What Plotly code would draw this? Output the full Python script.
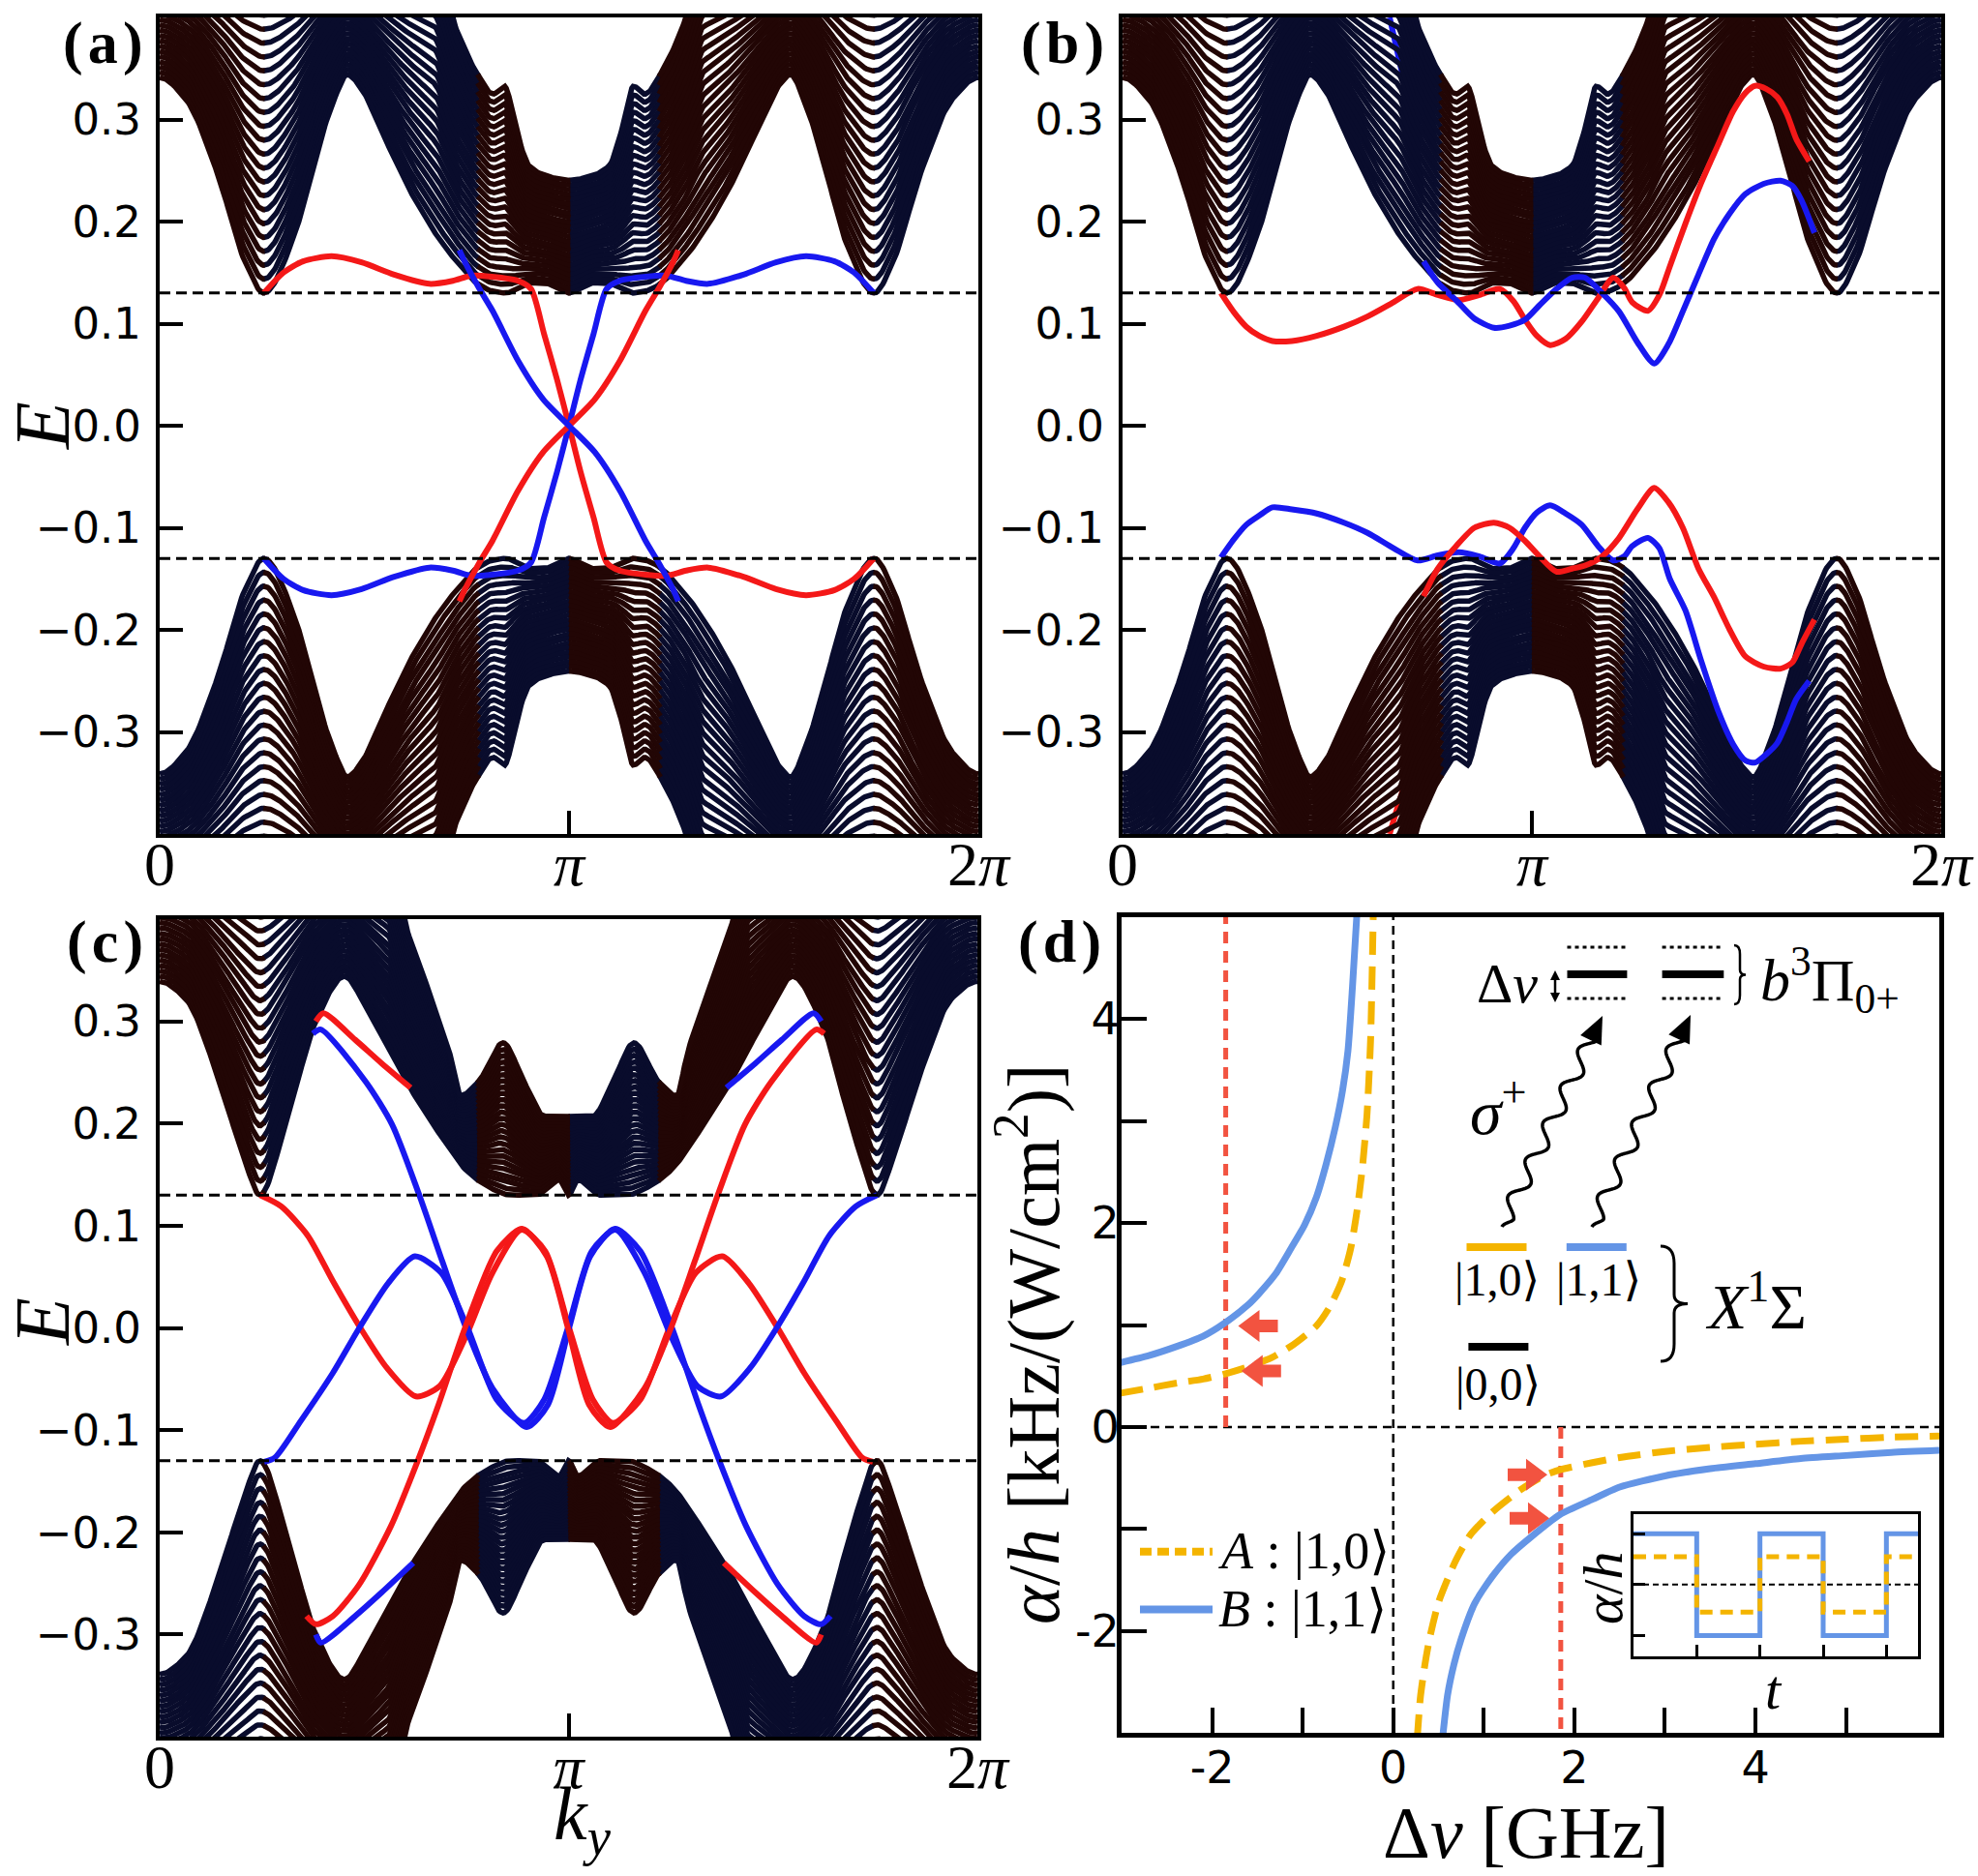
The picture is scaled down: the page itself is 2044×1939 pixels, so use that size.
import numpy as np
import plotly.graph_objects as go

W, H = 2044, 1939
PI = np.pi
TWO_PI = 2 * np.pi


def PX(x):
    return x / W


def PY(y):
    return 1 - y / H


NAVY = '#090c2c'
BROWN = '#220605'
RED = '#f41818'
BLUE = '#1818f0'
ORANGE = '#f4b400'
CBLUE = '#6495e6'
TOMATO = '#f25340'
SERIF = 'Liberation Serif, DejaVu Serif, serif'
SANS = 'DejaVu Sans, sans-serif'

# ------------------------------------------------------------------ data
GAP = 0.13  # dashed gap edges in (a)-(c)

# bulk envelopes, read on 0..pi (bands are symmetric about pi)
ab_k_low = [0, 0.2, 0.45, 0.65, 0.80, 1.02, 1.19, 1.34, 1.44, 1.55, 1.69, 1.94, 2.19, 2.30, 2.43, 2.55, 2.66, 2.75, 2.85, 2.95, 3.05, PI]
ab_e_low = [0.341, 0.32, 0.245, 0.162, 0.130, 0.181, 0.26, 0.32, 0.344, 0.33, 0.292, 0.226, 0.175, 0.158, 0.14, 0.132, 0.13, 0.135, 0.14, 0.14, 0.135, 0.13]
ab_k_top = [0, 2.10, 2.27, 2.43, 2.56, 2.645, 2.75, 2.83, 2.95, PI]
ab_e_top = [0.47, 0.47, 0.40, 0.355, 0.333, 0.341, 0.29, 0.26, 0.25, 0.245]

c_k_low = [0, 0.2, 0.45, 0.65, 0.771, 0.95, 1.2, 1.42, 1.6, 1.9, 2.15, 2.35, 2.5, 2.7, 2.9, 3.0, 3.07, PI]
c_e_low = [0.339, 0.322, 0.245, 0.165, 0.130, 0.19, 0.30, 0.344, 0.31, 0.24, 0.19, 0.155, 0.14, 0.13, 0.13, 0.14, 0.145, 0.13]
c_k_top = [0, 1.75, 1.89, 2.07, 2.23, 2.31, 2.45, 2.64, 2.80, 2.96, PI]
c_e_top = [0.47, 0.47, 0.40, 0.334, 0.272, 0.23, 0.245, 0.285, 0.245, 0.21, 0.21]

# (a) edge states
a_redA_k = [0.80, 0.95, 1.10, 1.32, 1.55, 1.80, 2.07, 2.25, 2.39, 2.55, 2.75, 2.85, 2.95, 3.05, PI, 3.23, 3.33, 3.43, 3.53, 3.73, 3.89, 4.04, 4.21, 4.48, 4.73, 4.96, 5.18, 5.33, 5.48]
a_redA_e = [0.130, 0.150, 0.161, 0.166, 0.160, 0.148, 0.139, 0.142, 0.147, 0.146, 0.142, 0.134, 0.09, 0.045, 0.0, -0.045, -0.09, -0.134, -0.142, -0.146, -0.147, -0.142, -0.139, -0.148, -0.160, -0.166, -0.161, -0.150, -0.130]
a_blueA_k = a_redA_k
a_blueA_e = [-0.130, -0.150, -0.161, -0.166, -0.160, -0.148, -0.139, -0.142, -0.147, -0.146, -0.142, -0.134, -0.09, -0.045, 0.0, 0.045, 0.09, 0.134, 0.142, 0.146, 0.147, 0.142, 0.139, 0.148, 0.160, 0.166, 0.161, 0.150, 0.130]
a_blueB_k = [2.30, 2.34, 2.45, 2.555, 2.749, 2.943, PI, 3.340, 3.534, 3.728, 3.833, 3.943, 3.98]
a_blueB_e = [0.172, 0.161, 0.135, 0.1125, 0.064, 0.026, 0.0, -0.026, -0.064, -0.1125, -0.135, -0.161, -0.172]
a_redB_k = a_blueB_k
a_redB_e = [-0.172, -0.161, -0.135, -0.1125, -0.064, -0.026, 0.0, 0.026, 0.064, 0.1125, 0.135, 0.161, 0.172]

# (b) edge states
b_redU_k = [0.755, 0.85, 0.95, 1.05, 1.15, 1.30, 1.49, 1.70, 1.88, 2.08, 2.265, 2.42, 2.58, 2.74, 2.895, 3.00, 3.088, 3.18, 3.282, 3.40, 3.524, 3.65, 3.766, 3.85, 3.911, 4.032, 4.12, 4.20, 4.32, 4.44, 4.57, 4.686, 4.78, 4.855, 4.94, 5.024, 5.10, 5.17, 5.27]
b_redU_e = [0.130, 0.112, 0.097, 0.088, 0.083, 0.083, 0.088, 0.097, 0.107, 0.121, 0.134, 0.128, 0.123, 0.128, 0.134, 0.122, 0.104, 0.088, 0.079, 0.085, 0.102, 0.125, 0.145, 0.135, 0.121, 0.1125, 0.128, 0.156, 0.198, 0.2375, 0.275, 0.308, 0.326, 0.333, 0.330, 0.322, 0.305, 0.281, 0.259]
b_blueL_k = b_redU_k
b_blueL_e = [-0.129, -0.112, -0.097, -0.088, -0.080, -0.082, -0.086, -0.095, -0.105, -0.120, -0.132, -0.127, -0.124, -0.128, -0.135, -0.120, -0.100, -0.085, -0.078, -0.086, -0.097, -0.118, -0.132, -0.128, -0.118, -0.110, -0.120, -0.150, -0.181, -0.230, -0.279, -0.312, -0.328, -0.330, -0.322, -0.311, -0.290, -0.268, -0.250]
b_blueU_k = [2.31, 2.42, 2.56, 2.70, 2.85, 2.97, 3.09, 3.20, 3.33, 3.45, 3.55, 3.68, 3.81, 3.95, 4.08, 4.19, 4.30, 4.42, 4.54, 4.66, 4.78, 4.92, 5.05, 5.14, 5.21, 5.31]
b_blueU_e = [0.161, 0.140, 0.123, 0.105, 0.096, 0.098, 0.104, 0.118, 0.134, 0.145, 0.145, 0.130, 0.112, 0.082, 0.061, 0.080, 0.112, 0.148, 0.183, 0.208, 0.227, 0.237, 0.240, 0.235, 0.221, 0.189]
b_redL_k = b_blueU_k
b_redL_e = [-0.167, -0.140, -0.118, -0.100, -0.095, -0.100, -0.113, -0.128, -0.143, -0.140, -0.137, -0.128, -0.110, -0.082, -0.061, -0.075, -0.100, -0.140, -0.168, -0.200, -0.226, -0.236, -0.238, -0.232, -0.214, -0.190]
b_blueTop_k = [2.05, 2.12, 2.19]
b_blueTop_e = [0.40, 0.36, 0.32]
b_redBot_k = [2.05, 2.12, 2.19, 2.36]
b_redBot_e = [-0.40, -0.37, -0.345, -0.33]

# (c) edge states
c_red1_k = [0.771, 0.934, 1.137, 1.339, 1.542, 1.745, 1.969, 2.151, 2.354, 2.557, 2.780, 2.963, 3.146, 3.328, 3.483, 3.694, 3.917, 4.120, 4.323, 4.526, 4.749, 4.952, 5.196, 5.398, 5.48]
c_red1_e = [0.130, 0.119, 0.0905, 0.044, 0.0, -0.039, -0.067, -0.057, -0.008, 0.054, 0.096, 0.075, 0.0, -0.070, -0.093, -0.070, 0.0, 0.054, 0.070, 0.044, 0.0, -0.044, -0.0905, -0.127, -0.131]
c_blue1_k = [0.803, 0.885, 1.087, 1.331, 1.534, 1.757, 1.960, 2.163, 2.366, 2.589, 2.800, 2.955, 3.137, 3.320, 3.503, 3.726, 3.929, 4.132, 4.314, 4.538, 4.741, 4.944, 5.146, 5.349, 5.512]
c_blue1_e = [-0.131, -0.127, -0.0905, -0.044, 0.0, 0.044, 0.070, 0.054, 0.0, -0.070, -0.093, -0.070, 0.0, 0.075, 0.096, 0.054, -0.008, -0.057, -0.067, -0.039, 0.0, 0.044, 0.0905, 0.119, 0.130]
c_blue2_k = [1.177, 1.238, 1.583, 1.786, 1.989, 2.172, 2.354, 2.557, 2.821, 2.984, 3.146, 3.308, 3.499, 3.694, 3.937, 4.14, 4.303, 4.506, 4.749, 4.952, 5.082, 5.155]
c_blue2_e = [0.288, 0.292, 0.241, 0.199, 0.132, 0.065, 0.0, -0.059, -0.097, -0.075, 0.0, 0.070, 0.097, 0.075, 0.0, -0.075, -0.131, -0.194, -0.251, -0.282, -0.290, -0.282]
c_red2_k = [1.128, 1.201, 1.331, 1.534, 1.777, 1.980, 2.143, 2.346, 2.589, 2.784, 2.975, 3.137, 3.299, 3.462, 3.726, 3.929, 4.111, 4.294, 4.497, 4.700, 5.045, 5.106]
c_red2_e = [-0.282, -0.290, -0.282, -0.251, -0.194, -0.131, -0.075, 0.0, 0.075, 0.097, 0.070, 0.0, -0.075, -0.097, -0.059, 0.0, 0.065, 0.132, 0.199, 0.241, 0.292, 0.288]
c_red3_k = [1.20, 1.258, 1.502, 1.705, 1.928]
c_red3_e = [0.300, 0.308, 0.282, 0.259, 0.235]
c_blue3_k = [4.355, 4.578, 4.781, 5.025, 5.083]
c_blue3_e = [0.235, 0.259, 0.282, 0.308, 0.300]
c_blue4_k = [1.20, 1.238, 1.502, 1.705, 1.948]
c_blue4_e = [-0.300, -0.308, -0.282, -0.259, -0.230]
c_red4_k = [4.335, 4.578, 4.781, 5.045, 5.083]
c_red4_e = [-0.230, -0.259, -0.282, -0.308, -0.300]

# (d) polarisability curves
dB_left_x = [-3.02, -2.7, -2.39, -2.1, -1.86, -1.6, -1.48, -1.3, -1.13, -0.98, -0.85, -0.74, -0.64, -0.56, -0.50, -0.45, -0.40]
dB_left_y = [0.63, 0.70, 0.79, 0.89, 1.02, 1.20, 1.31, 1.50, 1.75, 1.98, 2.25, 2.58, 2.94, 3.30, 3.69, 4.32, 5.05]
dA_left_x = [-3.02, -2.7, -2.39, -2.1, -1.86, -1.6, -1.34, -1.1, -0.85, -0.70, -0.57, -0.47, -0.40, -0.34, -0.29, -0.25, -0.22]
dA_left_y = [0.33, 0.38, 0.43, 0.47, 0.52, 0.59, 0.68, 0.81, 0.99, 1.18, 1.43, 1.75, 2.12, 2.55, 3.06, 3.8, 5.05]
dB_right_x = [0.545, 0.60, 0.67, 0.75, 0.90, 1.10, 1.30, 1.52, 1.84, 2.2, 2.5, 3.0, 3.5, 4.0, 4.5, 5.0, 5.5, 6.03]
dB_right_y = [-3.05, -2.63, -2.33, -2.08, -1.73, -1.46, -1.25, -1.08, -0.86, -0.71, -0.59, -0.48, -0.41, -0.36, -0.31, -0.28, -0.25, -0.23]
dA_right_x = [0.265, 0.30, 0.35, 0.40, 0.50, 0.68, 0.85, 1.10, 1.40, 1.66, 1.84, 2.2, 2.5, 3.0, 3.5, 4.0, 4.5, 5.0, 5.5, 6.03]
dA_right_y = [-3.05, -2.65, -2.33, -2.08, -1.72, -1.33, -1.06, -0.83, -0.62, -0.48, -0.42, -0.35, -0.30, -0.24, -0.20, -0.17, -0.14, -0.12, -0.10, -0.09]
d_red_lines_x = [-1.85, 1.85]
d_red_lines_y = [[0.0, 5.0], [0.0, -3.0]]
d_xticks = [-2, 0, 2, 4]
d_xtick_text = ['-2', '0', '2', '4']
d_xminor = [-1, 1, 3, 5]
d_yticks = [-2, 0, 2, 4]
d_ytick_text = ['-2', '0', '2', '4']
d_yminor = [-1, 1, 3]

# inset square waves
inset_t = [0, 1, 1, 2, 2, 3, 3, 4, 4, 4.5]
inset_B = [1, 1, -1, -1, 1, 1, -1, -1, 1, 1]
inset_A = [0.55, 0.55, -0.54, -0.54, 0.55, 0.55, -0.54, -0.54, 0.55, 0.55]


# ------------------------------------------------------------------ helpers
def pchip(xp, yp, xn):
    xp = np.asarray(xp, float)
    yp = np.asarray(yp, float)
    h = np.diff(xp)
    d = np.diff(yp) / h
    m = np.zeros_like(yp)
    for i in range(1, len(xp) - 1):
        if d[i - 1] * d[i] > 0:
            w1 = 2 * h[i] + h[i - 1]
            w2 = h[i] + 2 * h[i - 1]
            m[i] = (w1 + w2) / (w1 / d[i - 1] + w2 / d[i])
    idx = np.clip(np.searchsorted(xp, xn, side='right') - 1, 0, len(xp) - 2)
    t = (xn - xp[idx]) / h[idx]
    h00 = 2 * t ** 3 - 3 * t ** 2 + 1
    h10 = t ** 3 - 2 * t ** 2 + t
    h01 = -2 * t ** 3 + 3 * t ** 2
    h11 = t ** 3 - t ** 2
    return h00 * yp[idx] + h10 * h[idx] * m[idx] + h01 * yp[idx + 1] + h11 * h[idx] * m[idx + 1]


KG = np.linspace(0, TWO_PI, 601)
KK = np.where(KG <= PI, KG, TWO_PI - KG)
UPPER_BROWN = ((KG < 0.80) | ((KG > 2.45) & (KG < PI)) |
               ((KG > TWO_PI - 2.45) & (KG < TWO_PI - 0.80)))


def runs(mask):
    d = np.diff(np.concatenate([[0], mask.astype(int), [0]]))
    return list(zip(np.flatnonzero(d == 1), np.flatnonzero(d == -1)))


def bulk_traces(k1, e1, kt, et, xa, ya, n=25):
    E1 = pchip(k1, e1, KK)
    ET = pchip(kt, et, KK)
    out = []
    for sign in (1, -1):
        bmask = UPPER_BROWN if sign == 1 else ~UPPER_BROWN
        for color, mask in ((NAVY, ~bmask), (BROWN, bmask)):
            xs, ys = [], []
            for i in range(n):
                s = 1 - i / n
                Ei = sign * (ET - (ET - E1) * s)
                for a, b in runs(mask):
                    a0 = max(a - 1, 0)
                    b0 = min(b + 1, len(KG))
                    xs += [KG[a0:b0], [np.nan]]
                    ys += [Ei[a0:b0], [np.nan]]
            out.append(go.Scatter(x=np.round(np.concatenate(xs), 4), y=np.round(np.concatenate(ys), 4),
                                  mode='lines', line=dict(color=color, width=5.5),
                                  xaxis=xa, yaxis=ya, hoverinfo='skip', showlegend=False))
    return out


def edge(k, e, color, xa, ya):
    return go.Scatter(x=k, y=e, mode='lines', line=dict(color=color, width=6, shape='spline', smoothing=0.7),
                      xaxis=xa, yaxis=ya, hoverinfo='skip', showlegend=False)


def gap_lines(xa, ya):
    return [go.Scatter(x=[0, TWO_PI], y=[s * GAP, s * GAP], mode='lines',
                       line=dict(color='black', width=3, dash='11px,6px'),
                       xaxis=xa, yaxis=ya, hoverinfo='skip', showlegend=False) for s in (1, -1)]


traces = []
# (a)
traces += bulk_traces(ab_k_low, ab_e_low, ab_k_top, ab_e_top, 'x', 'y')
traces += [edge(a_redA_k, a_redA_e, RED, 'x', 'y'), edge(a_blueA_k, a_blueA_e, BLUE, 'x', 'y'),
           edge(a_redB_k, a_redB_e, RED, 'x', 'y'), edge(a_blueB_k, a_blueB_e, BLUE, 'x', 'y')]
traces += gap_lines('x', 'y')
# (b)
traces += [edge(b_blueTop_k, b_blueTop_e, BLUE, 'x2', 'y2'), edge(b_redBot_k, b_redBot_e, RED, 'x2', 'y2')]
traces += bulk_traces(ab_k_low, ab_e_low, ab_k_top, ab_e_top, 'x2', 'y2')
traces += [edge(b_redU_k, b_redU_e, RED, 'x2', 'y2'), edge(b_blueL_k, b_blueL_e, BLUE, 'x2', 'y2'),
           edge(b_blueU_k, b_blueU_e, BLUE, 'x2', 'y2'), edge(b_redL_k, b_redL_e, RED, 'x2', 'y2')]
traces += gap_lines('x2', 'y2')
# (c)
traces += bulk_traces(c_k_low, c_e_low, c_k_top, c_e_top, 'x3', 'y3')
for kk_, ee_, col in [(c_red1_k, c_red1_e, RED), (c_blue1_k, c_blue1_e, BLUE), (c_blue2_k, c_blue2_e, BLUE),
                      (c_red2_k, c_red2_e, RED), (c_red3_k, c_red3_e, RED), (c_blue3_k, c_blue3_e, BLUE),
                      (c_blue4_k, c_blue4_e, BLUE), (c_red4_k, c_red4_e, RED)]:
    traces.append(edge(kk_, ee_, col, 'x3', 'y3'))
traces += gap_lines('x3', 'y3')

# (d)
traces.append(go.Scatter(x=[-3, 6.03], y=[0, 0], mode='lines', line=dict(color='black', width=2.5, dash='9px,6px'),
                         xaxis='x4', yaxis='y4', hoverinfo='skip', showlegend=False))
traces.append(go.Scatter(x=[0, 0], y=[-3, 5], mode='lines', line=dict(color='black', width=2.5, dash='9px,6px'),
                         xaxis='x4', yaxis='y4', hoverinfo='skip', showlegend=False))
for xv, yv in zip(d_red_lines_x, d_red_lines_y):
    traces.append(go.Scatter(x=[xv, xv], y=yv, mode='lines', line=dict(color=TOMATO, width=5, dash='12px,8px'),
                             xaxis='x4', yaxis='y4', hoverinfo='skip', showlegend=False))
for xs_, ys_ in [(dB_left_x, dB_left_y), (dB_right_x, dB_right_y)]:
    traces.append(go.Scatter(x=xs_, y=ys_, mode='lines', line=dict(color=CBLUE, width=7, shape='spline', smoothing=0.6),
                             xaxis='x4', yaxis='y4', hoverinfo='skip', showlegend=False))
for xs_, ys_ in [(dA_left_x, dA_left_y), (dA_right_x, dA_right_y)]:
    traces.append(go.Scatter(x=xs_, y=ys_, mode='lines',
                             line=dict(color=ORANGE, width=7, dash='24px,12px', shape='spline', smoothing=0.6),
                             xaxis='x4', yaxis='y4', hoverinfo='skip', showlegend=False))
# inset
traces.append(go.Scatter(x=[0, 4.5], y=[0, 0], mode='lines', line=dict(color='black', width=2, dash='6px,4px'),
                         xaxis='x5', yaxis='y5', hoverinfo='skip', showlegend=False))
traces.append(go.Scatter(x=inset_t, y=inset_B, mode='lines', line=dict(color=CBLUE, width=5),
                         xaxis='x5', yaxis='y5', hoverinfo='skip', showlegend=False))
traces.append(go.Scatter(x=inset_t, y=inset_A, mode='lines', line=dict(color=ORANGE, width=5, dash='13px,8px'),
                         xaxis='x5', yaxis='y5', hoverinfo='skip', showlegend=False))

fig = go.Figure(traces)

# ------------------------------------------------------------------ axes
def band_x(dom, anchor):
    return dict(domain=dom, anchor=anchor, range=[0, TWO_PI], tickvals=[0, PI, TWO_PI],
                ticktext=['0', '<i>π</i>', '2<i>π</i>'], automargin=False,
                ticks='inside', ticklen=24, tickwidth=4, tickcolor='black', showline=True, mirror=True,
                linecolor='black', linewidth=4, showgrid=False, zeroline=False, ticklabelstandoff=-28,
                tickfont=dict(family=SERIF, size=64, color='black'))


def band_y(dom, anchor):
    return dict(domain=dom, anchor=anchor, range=[-0.4, 0.4], tickvals=[-0.3, -0.2, -0.1, 0, 0.1, 0.2, 0.3],
                tickformat='.1f', ticks='inside', ticklen=24, tickwidth=4, tickcolor='black', showline=True,
                mirror=True, linecolor='black', linewidth=4, showgrid=False, zeroline=False, ticklabelstandoff=6,
                automargin=False, tickfont=dict(family=SANS, size=45, color='black'))


A_X = [PX(165), PX(1011)]
B_X = [PX(1160), PX(2006)]
TOP_Y = [PY(862), PY(18)]
C_X = [PX(165), PX(1010)]
C_Y = [PY(1795), PY(950)]
D_X = [PX(1159), PX(2004)]
D_Y = [PY(1791), PY(948)]
IN_X = [PX(1688), PX(1982)]
IN_Y = [PY(1712), PY(1565)]

MINOR = dict(ticks='inside', ticklen=26, tickwidth=4, tickcolor='black', showgrid=False)

layout = dict(
    width=W, height=H, autosize=False,
    margin=dict(l=0, r=0, t=0, b=0, pad=0, autoexpand=False), paper_bgcolor='white', plot_bgcolor='white',
    showlegend=False, font=dict(family=SANS, color='black'),
    xaxis=band_x(A_X, 'y'), yaxis=band_y(TOP_Y, 'x'),
    xaxis2=band_x(B_X, 'y2'), yaxis2=band_y(TOP_Y, 'x2'),
    xaxis3=band_x(C_X, 'y3'), yaxis3=band_y(C_Y, 'x3'),
    xaxis4=dict(domain=D_X, anchor='y4', range=[-3, 6.03], tickvals=d_xticks, ticktext=d_xtick_text,
                minor=dict(tickvals=d_xminor, **MINOR), automargin=False,
                ticks='inside', ticklen=26, tickwidth=4, tickcolor='black', showline=True, mirror=True,
                linecolor='black', linewidth=5, showgrid=False, zeroline=False, ticklabelstandoff=-8,
                tickfont=dict(family=SANS, size=46, color='black')),
    yaxis4=dict(domain=D_Y, anchor='x4', range=[-3, 5], tickvals=d_yticks, ticktext=d_ytick_text,
                minor=dict(tickvals=d_yminor, **MINOR), automargin=False,
                ticks='inside', ticklen=26, tickwidth=4, tickcolor='black', showline=True, mirror=True,
                linecolor='black', linewidth=5, showgrid=False, zeroline=False, ticklabelstandoff=-12,
                tickfont=dict(family=SANS, size=46, color='black')),
    xaxis5=dict(domain=IN_X, anchor='y5', range=[0, 4.5], tickvals=[1, 2, 3, 4], showticklabels=False,
                ticks='inside', ticklen=12, tickwidth=3, tickcolor='black', showline=True, mirror=True,
                linecolor='black', linewidth=3, showgrid=False, zeroline=False, automargin=False),
    yaxis5=dict(domain=IN_Y, anchor='x5', range=[-1.41, 1.385], tickvals=[-1, 0, 1], showticklabels=False,
                ticks='inside', ticklen=12, tickwidth=3, tickcolor='black', showline=True, mirror=True,
                linecolor='black', linewidth=3, showgrid=False, zeroline=False, automargin=False),
)
fig.update_layout(**layout)


# ------------------------------------------------------------------ annotations
def ann(x, y, text, size, family=SERIF, angle=0, xanchor='center', yanchor='middle'):
    return dict(x=PX(x), y=PY(y), xref='paper', yref='paper', text=text, showarrow=False, textangle=angle,
                xanchor=xanchor, yanchor=yanchor, font=dict(family=family, size=size, color='black'))


HAIR = '\u200a'
anns = [
    ann(106, 44, f'<b>({HAIR}a{HAIR})</b>', 62), ann(1098, 44, f'<b>({HAIR}b{HAIR})</b>', 62),
    ann(108, 974, f'<b>({HAIR}c{HAIR})</b>', 62), ann(1095, 974, f'<b>({HAIR}d{HAIR})</b>', 62),
    ann(44, 440, '<i>E</i>', 80, angle=-90), ann(44, 1366, '<i>E</i>', 80, angle=-90),
    ann(602, 1880, '<i>k</i><sub><i>y</i></sub>', 78),
    ann(1577, 1894, 'Δ<i>ν</i> [GHz]', 76),
    ann(1063, 1390, '<i>α</i>/<i>h</i> [kHz/(W/cm<sup>2</sup>)]', 76, angle=-90),
    ann(1257, 1603, '<i>A</i> : |1,0⟩', 54, xanchor='left'),
    ann(1257, 1663, '<i>B</i> : |1,1⟩', 54, xanchor='left'),
    ann(1557, 1016, 'Δ<i>ν</i>', 58),
    ann(1817, 1012, '<i>b</i><sup>3</sup>Π<sub>0+</sub>', 62, xanchor='left'),
    ann(1548, 1144, '<i>σ</i><sup>+</sup>', 66),
    ann(1547, 1322, '|1,0⟩', 48), ann(1652, 1322, '|1,1⟩', 48), ann(1548, 1430, '|0,0⟩', 48),
    ann(1814, 1345, '<i>X</i><sup>1</sup>Σ', 66),
    ann(1656, 1641, '<i>α</i>/<i>h</i>', 58, angle=-90),
    ann(1833, 1746, '<i>t</i>', 58),
]
fig.update_layout(annotations=anns)


# ------------------------------------------------------------------ shapes (diagram decorations)
def P(x, y):
    return f'{PX(x):.5f},{PY(y):.5f}'


def pline(x0, y0, x1, y1, color='black', width=3, dash=None):
    d = dict(type='line', xref='paper', yref='paper', x0=PX(x0), y0=PY(y0), x1=PX(x1), y1=PY(y1),
             line=dict(color=color, width=width))
    if dash:
        d['line']['dash'] = dash
    return d


def poly(points, color):
    return dict(type='path', xref='paper', yref='paper', path='M ' + ' L '.join(P(x, y) for x, y in points) + ' Z',
                fillcolor=color, line=dict(width=0), layer='above')


def brace(xl, yt, yb, w, width=3):
    ym = (yt + yb) / 2
    xm = xl + w / 2
    xr = xl + w
    h = yb - yt
    path = (f'M {P(xl, yt)} Q {P(xm, yt)} {P(xm, yt + 0.15 * h)} L {P(xm, ym - 0.08 * h)} '
            f'Q {P(xm, ym)} {P(xr, ym)} Q {P(xm, ym)} {P(xm, ym + 0.08 * h)} '
            f'L {P(xm, yb - 0.15 * h)} Q {P(xm, yb)} {P(xl, yb)}')
    return dict(type='path', xref='paper', yref='paper', path=path, line=dict(color='black', width=width))


def wavy_arrow(x0, y0, x1, y1, amp=8.0, wl=42.0):
    dx, dy = x1 - x0, y1 - y0
    L = np.hypot(dx, dy)
    ux, uy = dx / L, dy / L
    nx, ny = -uy, ux
    head = 28
    s = np.linspace(0, L - head + 2, 260)
    taper = np.clip(s / 12.0, 0, 1)
    off = amp * np.sin(2 * np.pi * s / wl) * taper
    xs = x0 + ux * s + nx * off
    ys = y0 + uy * s + ny * off
    path = 'M ' + ' L '.join(P(a, b) for a, b in zip(xs, ys))
    wave = dict(type='path', xref='paper', yref='paper', path=path, line=dict(color='black', width=3.5))
    bx, by = x1 - ux * head, y1 - uy * head
    tri = poly([(x1, y1), (bx + nx * 12, by + ny * 12), (bx - nx * 12, by - ny * 12)], 'black')
    return [wave, tri]


def block_arrow(xt, yc, direction):
    L, hl, sh, hh = 41, 22, 6.5, 16.5
    pts = [(-L, -sh), (-hl, -sh), (-hl, -hh), (0, 0), (-hl, hh), (-hl, sh), (-L, sh)]
    return poly([(xt + direction * a, yc + b) for a, b in pts], TOMATO)


shapes = []
# b3Pi levels
for xa_, xb_ in [(1619.5, 1681.4), (1717.6, 1781.3)]:
    shapes.append(pline(xa_, 979, xb_, 979, width=3, dash='4px,4px'))
    shapes.append(pline(xa_, 1007, xb_, 1007, width=8))
    shapes.append(pline(xa_, 1032, xb_, 1032, width=3, dash='4px,4px'))
# double arrow for delta nu
shapes.append(pline(1607, 1012, 1607, 1027, width=2.5))
shapes.append(poly([(1607, 1003), (1602, 1013), (1612, 1013)], 'black'))
shapes.append(poly([(1607, 1036), (1602, 1026), (1612, 1026)], 'black'))
# braces
shapes.append(brace(1792, 977, 1038, 12, width=2.5))
shapes.append(brace(1716, 1288, 1407, 28, width=3))
# ground levels
shapes.append(pline(1515.5, 1289, 1577.5, 1289, color=ORANGE, width=8))
shapes.append(pline(1618.8, 1289, 1680.8, 1289, color=CBLUE, width=8))
shapes.append(pline(1517.4, 1392, 1579.4, 1392, color='black', width=8))
# wavy sigma+ arrows
shapes += wavy_arrow(1552, 1268, 1656, 1050)
shapes += wavy_arrow(1645, 1268, 1747, 1049)
# red arrows
shapes.append(block_arrow(1279.5, 1370.5, -1))
shapes.append(block_arrow(1282.8, 1416.9, -1))
shapes.append(block_arrow(1599.0, 1524.3, 1))
shapes.append(block_arrow(1601.0, 1569.3, 1))
# legend lines
shapes.append(pline(1178, 1603.8, 1253, 1603.8, color=ORANGE, width=8, dash='12px,6px'))
shapes.append(pline(1178, 1663.4, 1253, 1663.4, color=CBLUE, width=8))
fig.update_layout(shapes=shapes)

fig.write_html('out.html', config={'responsive': False})
